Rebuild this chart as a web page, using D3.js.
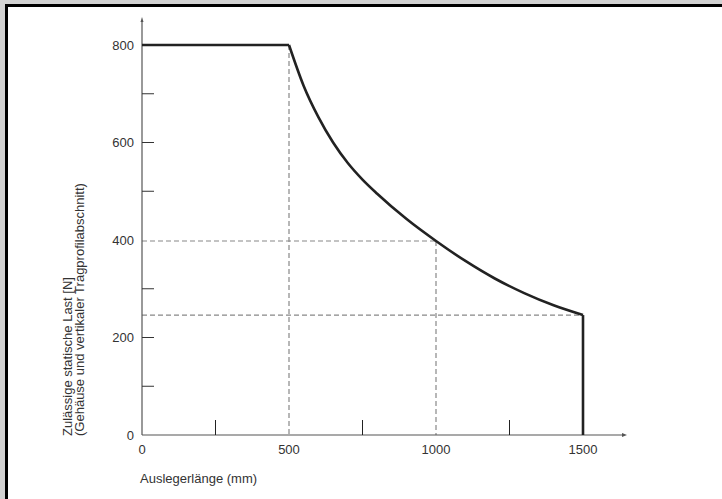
<!DOCTYPE html>
<html>
<head>
<meta charset="utf-8">
<script src="https://cdn.jsdelivr.net/npm/d3@7"></script>
<style>
  html, body { margin: 0; padding: 0; background: #d2d2d2; }
  svg { display: block; }
  text { font-family: "Liberation Sans", Arial, sans-serif; font-size: 13px; fill: #333; }
</style>
</head>
<body>
<svg id="chart" width="722" height="499"></svg>
<script>
// Data
var flatPart = [[0, 800], [500, 800]];
var curveLength = [500, 550, 600, 650, 700, 750, 800, 900, 1000, 1100, 1200, 1300, 1400, 1500];
var curveLoad = [800, 716, 652, 600, 558, 524, 495, 443, 398, 357, 321, 291, 266, 246];
var dropPart = [[1500, 246], [1500, 0]];
var xMajorTicks = [0, 500, 1000, 1500];
var xMinorTicks = [250, 750, 1250];
var yMajorTicks = [0, 200, 400, 600, 800];
var yMinorTicks = [100, 200, 300, 500, 600, 700];
// Guide lines: [x1, y1, x2, y2] in data units
var guides = [[500, 800, 500, 0], [1000, 398, 1000, 0], [0, 398, 1000, 398], [0, 246, 1500, 246]];

var svg = d3.select("#chart");

// Frame: black border on the top and left, white panel
svg.append("rect").attr("x", 5).attr("y", 4).attr("width", 717).attr("height", 495).attr("fill", "#000");
svg.append("rect").attr("x", 8).attr("y", 7).attr("width", 714).attr("height", 492).attr("fill", "#fff");

var x = d3.scaleLinear().domain([0, 1500]).range([142, 583]);
var y = d3.scaleLinear().domain([0, 800]).range([435, 45]);

var g = svg.append("g");

// Dashed guides
g.selectAll("line.guide").data(guides).enter().append("line")
    .attr("class", "guide")
    .attr("x1", d => x(d[0])).attr("y1", d => y(d[1]))
    .attr("x2", d => x(d[2])).attr("y2", d => y(d[3]))
    .attr("stroke", "#888").attr("stroke-width", 1.2)
    .attr("stroke-dasharray", "5,3");

// Axes with arrows
g.append("line").attr("x1", x(0)).attr("y1", y(0)).attr("x2", 622).attr("y2", y(0))
    .attr("stroke", "#555").attr("stroke-width", 1.2);
g.append("path").attr("d", "M622," + (y(0) - 2) + "L627," + y(0) + "L622," + (y(0) + 2) + "Z").attr("fill", "#555");
g.append("line").attr("x1", x(0)).attr("y1", y(0)).attr("x2", x(0)).attr("y2", 22)
    .attr("stroke", "#555").attr("stroke-width", 1.2);
g.append("path").attr("d", "M" + (x(0) - 1.5) + ",22L" + x(0) + ",17L" + (x(0) + 1.5) + ",22Z").attr("fill", "#555");

// Inner ticks
g.selectAll("line.ytick").data(yMinorTicks).enter().append("line")
    .attr("x1", x(0)).attr("x2", x(0) + 12)
    .attr("y1", d => y(d)).attr("y2", d => y(d))
    .attr("stroke", "#333").attr("stroke-width", 1);
g.selectAll("line.xtick").data(xMinorTicks).enter().append("line")
    .attr("x1", d => x(d)).attr("x2", d => x(d))
    .attr("y1", y(0)).attr("y2", y(0) - 15)
    .attr("stroke", "#222").attr("stroke-width", 1);

// Tick labels
g.selectAll("text.ylab").data(yMajorTicks).enter().append("text")
    .attr("x", 134).attr("y", d => y(d)).attr("dy", "0.35em")
    .attr("text-anchor", "end").text(d => d);
g.selectAll("text.xlab").data(xMajorTicks).enter().append("text")
    .attr("x", d => x(d)).attr("y", 454)
    .attr("text-anchor", "middle").text(d => d);

// Axis titles
g.append("text").attr("x", 140).attr("y", 483).text("Auslegerlänge (mm)");
var yt = g.append("text").attr("transform", "translate(72,436) rotate(-90)");
yt.append("tspan").attr("x", 0).attr("y", 0).text("Zulässige statische Last [N]");
yt.append("tspan").attr("x", 0).attr("y", 11.5).text("(Gehäuse und vertikaler Tragprofilabschnitt)");

// Load curve
var lin = d3.line().x(d => x(d[0])).y(d => y(d[1]));
var smooth = d3.line().x(d => x(d[0])).y(d => y(d[1])).curve(d3.curveMonotoneX);
var curvePts = curveLength.map((v, i) => [v, curveLoad[i]]);
[lin(flatPart), smooth(curvePts), lin(dropPart)].forEach(p => {
    g.append("path").attr("d", p).attr("fill", "none")
        .attr("stroke", "#222").attr("stroke-width", 2.6)
        .attr("stroke-linejoin", "miter");
});
</script>
</body>
</html>
